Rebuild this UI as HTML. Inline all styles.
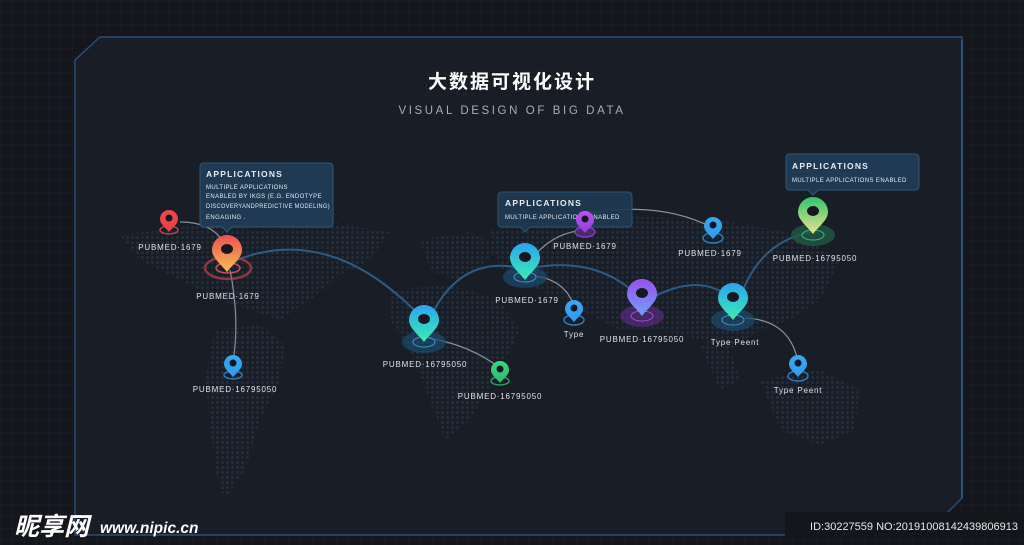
<!DOCTYPE html>
<html><head><meta charset="utf-8"><style>
html,body{margin:0;padding:0;background:#15161c;}
svg{display:block}
text{font-family:"Liberation Sans","Noto Sans CJK SC",sans-serif;}
</style></head><body>
<svg width="1024" height="545" viewBox="0 0 1024 545" xmlns="http://www.w3.org/2000/svg">
<defs>
<pattern id="grid" width="12" height="12" patternUnits="userSpaceOnUse"><path d="M12 0H0V12" fill="none" stroke="#1d2029" stroke-width="1"/></pattern>
<pattern id="dots" width="5" height="5" patternUnits="userSpaceOnUse"><rect x="1" y="1" width="3" height="3" rx="1" fill="#253040"/></pattern>
<linearGradient id="gOr" x1="0" y1="0" x2="0" y2="1"><stop offset="0" stop-color="#ec4f54"/><stop offset="1" stop-color="#f6c052"/></linearGradient>
<linearGradient id="gCy" x1="0" y1="0" x2="0" y2="1"><stop offset="0" stop-color="#2aa4f0"/><stop offset="1" stop-color="#3af0b4"/></linearGradient>
<linearGradient id="gPu" x1="0" y1="0" x2="0" y2="1"><stop offset="0" stop-color="#9a4ff0"/><stop offset="1" stop-color="#6fa0f8"/></linearGradient>
<linearGradient id="gGr" x1="0" y1="0" x2="0" y2="1"><stop offset="0" stop-color="#2fc46a"/><stop offset="1" stop-color="#f0e090"/></linearGradient>
<linearGradient id="gBl" x1="0" y1="0" x2="0" y2="1"><stop offset="0" stop-color="#3aa8f0"/><stop offset="1" stop-color="#2f9cf0"/></linearGradient>
<linearGradient id="gRd" x1="0" y1="0" x2="0" y2="1"><stop offset="0" stop-color="#f04850"/><stop offset="1" stop-color="#e84048"/></linearGradient>
<linearGradient id="gSG" x1="0" y1="0" x2="0" y2="1"><stop offset="0" stop-color="#3ad880"/><stop offset="1" stop-color="#2fb870"/></linearGradient>
<linearGradient id="gSP" x1="0" y1="0" x2="0" y2="1"><stop offset="0" stop-color="#c050f0"/><stop offset="1" stop-color="#9040e0"/></linearGradient>
<path id="pinB" d="M0,22 C-6,14 -15,8 -15,0 A15,15 0 1 1 15,0 C15,8 6,14 0,22Z"/>
<path id="pinS" d="M0,13 C-4,8 -9,5 -9,0 A9,9 0 1 1 9,0 C9,5 4,8 0,13Z"/>
</defs>
<rect width="1024" height="545" fill="#15161c"/>
<rect width="1024" height="545" fill="url(#grid)"/>
<path d="M100,37 H962 V498 L925,535 H75 V60 Z" fill="#191d26" stroke="#2a4d78" stroke-width="1.5"/>
<path d="M962,40 V498" stroke="#2f5f96" stroke-width="1.5"/>
<g fill="url(#dots)" opacity="0.8">
<path d="M120,235 L200,225 L270,230 L330,222 L390,232 L370,260 L340,275 L310,300 L280,320 L250,310 L220,300 L180,280 L140,260Z"/>
<path d="M215,330 L260,325 L285,345 L280,380 L260,420 L245,470 L225,500 L215,470 L210,420 L205,380Z"/>
<path d="M420,240 L470,232 L500,245 L480,270 L455,280 L430,270Z"/>
<path d="M390,290 L450,285 L500,300 L520,330 L500,370 L470,420 L445,440 L430,400 L410,350 L390,320Z"/>
<path d="M490,230 L600,215 L720,220 L800,235 L840,260 L820,300 L790,320 L760,330 L730,350 L700,340 L660,330 L620,330 L580,310 L540,290 L500,270Z"/>
<path d="M760,380 L820,370 L860,390 L855,430 L820,445 L780,430Z"/>
<path d="M700,345 L730,350 L740,380 L720,390Z"/>
</g>
<text x="512" y="88" text-anchor="middle" font-size="19" font-weight="bold" fill="#ffffff" letter-spacing="2">大数据可视化设计</text>
<text x="512" y="114" text-anchor="middle" font-size="11.5" fill="#a8adb6" letter-spacing="2.6">VISUAL DESIGN OF BIG DATA</text>
<g fill="none" stroke-width="1.2">
<path d="M232,262 Q330,220 424,320" stroke="#2e5a86" stroke-width="2"/>
<path d="M430,318 Q460,255 520,268" stroke="#2e5a86" stroke-width="2"/>
<path d="M530,268 Q600,255 642,300" stroke="#2e5a86" stroke-width="2"/>
<path d="M648,300 Q700,270 733,300" stroke="#2e5a86" stroke-width="2"/>
<path d="M740,298 Q760,240 813,232" stroke="#2e5a86" stroke-width="2"/>
<path d="M180,222 Q210,222 222,240" stroke="#8a8f98"/>
<path d="M230,270 Q240,320 233,362" stroke="#8a8f98"/>
<path d="M428,338 Q470,345 500,368" stroke="#8a8f98"/>
<path d="M535,255 Q555,232 585,230" stroke="#8a8f98"/>
<path d="M535,276 Q565,280 574,306" stroke="#8a8f98"/>
<path d="M585,214 Q660,200 713,228" stroke="#8a8f98"/>
<path d="M745,318 Q790,320 798,362" stroke="#8a8f98"/>
</g>
<g font-size="6" fill="#e6ecf2" letter-spacing="0.4">
<path d="M204,163 H329 Q333,163 333,167 V223 Q333,227 329,227 H232 L227,232 L222,227 H204 Q200,227 200,223 V167 Q200,163 204,163Z" fill="#1f3a52" stroke="#2f5878" stroke-width="1"/>
<text x="206" y="177" font-size="8.5" font-weight="bold" letter-spacing="1.2">APPLICATIONS</text>
<text x="206" y="189">MULTIPLE APPLICATIONS</text>
<text x="206" y="198">ENABLED BY IKGS (E.G. ENDOTYPE</text>
<text x="206" y="208" textLength="124" lengthAdjust="spacingAndGlyphs">DISCOVERYANDPREDICTIVE MODELING)</text>
<text x="206" y="219">ENGAGING .</text>
<path d="M502,192 H628 Q632,192 632,196 V223 Q632,227 628,227 H530 L525,232 L520,227 H502 Q498,227 498,223 V196 Q498,192 502,192Z" fill="#1f3a52" stroke="#2f5878" stroke-width="1" opacity="0.92"/>
<text x="505" y="206" font-size="8.5" font-weight="bold" letter-spacing="1.2">APPLICATIONS</text>
<text x="505" y="219">MULTIPLE APPLICATIONS ENABLED</text>
<path d="M790,154 H915 Q919,154 919,158 V186 Q919,190 915,190 H818 L813,195 L808,190 H790 Q786,190 786,186 V158 Q786,154 790,154Z" fill="#1f3a52" stroke="#2f5878" stroke-width="1"/>
<text x="792" y="169" font-size="8.5" font-weight="bold" letter-spacing="1.2">APPLICATIONS</text>
<text x="792" y="182">MULTIPLE APPLICATIONS ENABLED</text>
</g>
<ellipse cx="228" cy="268" rx="23" ry="11" fill="none" stroke="#c04048" stroke-width="2.5" opacity="0.7"/><ellipse cx="228" cy="268" rx="12" ry="5" fill="none" stroke="#d05058" stroke-width="1.5"/>
<g transform="translate(227,250)"><use href="#pinB" fill="url(#gOr)"/><ellipse cx="0" cy="-1" rx="6" ry="5" fill="#151820"/></g>
<g><ellipse cx="424" cy="342" rx="22" ry="11" fill="#1d4a6c" opacity="0.7"/><ellipse cx="424" cy="342" rx="11" ry="5" fill="none" stroke="#3a9ad0"/>
<g transform="translate(424,320)"><use href="#pinB" fill="url(#gCy)"/><ellipse cx="0" cy="-1" rx="6" ry="5" fill="#151820"/></g></g>
<g><ellipse cx="525" cy="277" rx="22" ry="11" fill="#1d4a6c" opacity="0.7"/><ellipse cx="525" cy="277" rx="11" ry="5" fill="none" stroke="#3a9ad0"/>
<g transform="translate(525,258)"><use href="#pinB" fill="url(#gCy)"/><ellipse cx="0" cy="-1" rx="6" ry="5" fill="#151820"/></g></g>
<g><ellipse cx="733" cy="320" rx="22" ry="11" fill="#1d4a6c" opacity="0.7"/><ellipse cx="733" cy="320" rx="11" ry="5" fill="none" stroke="#3a9ad0"/>
<g transform="translate(733,298)"><use href="#pinB" fill="url(#gCy)"/><ellipse cx="0" cy="-1" rx="6" ry="5" fill="#151820"/></g></g>
<ellipse cx="642" cy="316" rx="22" ry="11" fill="#5a2a80" opacity="0.7"/><ellipse cx="642" cy="316" rx="11" ry="5" fill="none" stroke="#a050d0"/>
<g transform="translate(642,294)"><use href="#pinB" fill="url(#gPu)"/><ellipse cx="0" cy="-1" rx="6" ry="5" fill="#151820"/></g>
<ellipse cx="813" cy="235" rx="22" ry="11" fill="#1f5a44" opacity="0.8"/><ellipse cx="813" cy="235" rx="11" ry="5" fill="none" stroke="#3ab878"/>
<g transform="translate(813,212)"><use href="#pinB" fill="url(#gGr)"/><ellipse cx="0" cy="-1" rx="6" ry="5" fill="#151820"/></g>
<g><ellipse cx="169" cy="230" rx="9" ry="4" fill="none" stroke="#c04048" stroke-width="1.5"/><g transform="translate(169,219)"><use href="#pinS" fill="url(#gRd)"/><circle r="3.5" cy="-1" fill="#151820"/></g></g>
<g><ellipse cx="233" cy="375" rx="9" ry="4" fill="none" stroke="#2f7ab8" stroke-width="1.5"/><g transform="translate(233,364)"><use href="#pinS" fill="url(#gBl)"/><circle r="3.5" cy="-1" fill="#151820"/></g></g>
<g><ellipse cx="500" cy="381" rx="9" ry="4" fill="none" stroke="#2f9a60" stroke-width="1.5"/><g transform="translate(500,370)"><use href="#pinS" fill="url(#gSG)"/><circle r="3.5" cy="-1" fill="#151820"/></g></g>
<g><ellipse cx="585" cy="232" rx="10" ry="5" fill="#4a2a6a" stroke="#9040d0" stroke-width="1.2"/><g transform="translate(585,220)"><use href="#pinS" fill="url(#gSP)"/><circle r="3.5" cy="-1" fill="#151820"/></g></g>
<g><ellipse cx="574" cy="320" rx="10" ry="5" fill="none" stroke="#2f7ab8" stroke-width="1.5"/><g transform="translate(574,309)"><use href="#pinS" fill="url(#gBl)"/><circle r="3.5" cy="-1" fill="#151820"/></g></g>
<g><ellipse cx="713" cy="238" rx="10" ry="5" fill="none" stroke="#2f7ab8" stroke-width="1.5"/><g transform="translate(713,226)"><use href="#pinS" fill="url(#gBl)"/><circle r="3.5" cy="-1" fill="#151820"/></g></g>
<g><ellipse cx="798" cy="376" rx="10" ry="5" fill="none" stroke="#2f7ab8" stroke-width="1.5"/><g transform="translate(798,364)"><use href="#pinS" fill="url(#gBl)"/><circle r="3.5" cy="-1" fill="#151820"/></g></g>
<g font-size="8" fill="#dde3ea" text-anchor="middle" letter-spacing="0.8">
<text x="170" y="250">PUBMED·1679</text>
<text x="228" y="299">PUBMED·1679</text>
<text x="235" y="392">PUBMED·16795050</text>
<text x="425" y="367">PUBMED·16795050</text>
<text x="500" y="399">PUBMED·16795050</text>
<text x="527" y="303">PUBMED·1679</text>
<text x="585" y="249">PUBMED·1679</text>
<text x="574" y="337">Type</text>
<text x="642" y="342">PUBMED·16795050</text>
<text x="710" y="256">PUBMED·1679</text>
<text x="735" y="345">Type Peent</text>
<text x="798" y="393">Type Peent</text>
<text x="815" y="261">PUBMED·16795050</text>
</g>
<text x="14" y="535" font-size="25" font-weight="bold" fill="#ffffff" font-style="italic">昵享网</text>
<text x="100" y="533" font-size="15.5" font-weight="bold" fill="#ffffff" font-style="italic">www.nipic.cn</text>
<rect x="785" y="512" width="239" height="26" fill="#14161b"/>
<text x="1018" y="530" text-anchor="end" font-size="11" fill="#e8e8e8">ID:30227559 NO:20191008142439806913</text>
</svg>
</body></html>
